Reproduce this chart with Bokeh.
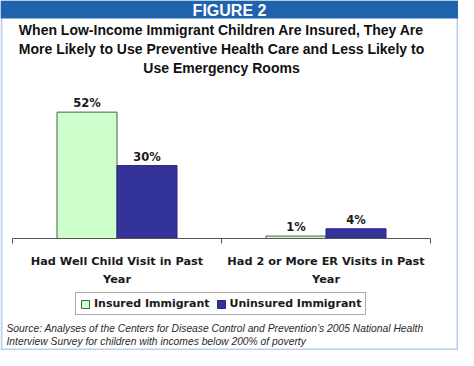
import numpy as np
from bokeh.plotting import figure
from bokeh.models import (Range1d, LinearAxis, FixedTicker, Label, BoxAnnotation,
                          Legend, LegendItem, ColumnDataSource)
from bokeh.transform import dodge
from bokeh.embed import file_html
from bokeh.resources import INLINE
from bokeh.core.properties import value

# ---------------- data ----------------
categories = ["Had Well Child Visit in Past\nYear",
              "Had 2 or More ER Visits in Past\nYear"]
series_names = ["Insured Immigrant", "Uninsured Immigrant"]
insured = [52, 1]
uninsured = [30, 4]
header_text = "FIGURE 2"
title_lines = ["When Low-Income Immigrant Children Are Insured, They Are",
               "More Likely to Use Preventive Health Care and Less Likely to",
               "Use Emergency Rooms"]
source_lines = ["Source: Analyses of the Centers for Disease Control and Prevention\u2019s 2005 National Health",
                "Interview Survey for children with incomes below 200% of poverty"]

# ---------------- layout ----------------
W, H = 458, 350
PX_PER_UNIT = 2.43      # pixels per percentage point
BASE = 238              # baseline, px from top
CAT_PX = 209            # category width in px
LEFT = 12               # chart left, px
BAR_W = 60 / CAT_PX
BLUE = "#1f63ad"
LBL_FONT = "DejaVu Sans"
TITLE_FONT = "Liberation Sans"

p = figure(width=W, height=H, output_backend="svg", toolbar_location=None,
           x_range=Range1d(-LEFT / CAT_PX, (W - LEFT) / CAT_PX),
           y_range=Range1d(-(H - BASE) / PX_PER_UNIT, BASE / PX_PER_UNIT),
           x_axis_type=None, y_axis_type=None, min_border=0,
           outline_line_color=None, background_fill_color="white",
           border_fill_color="white")

idx = np.arange(len(categories)) + 0.5
src = ColumnDataSource(dict(
    x=idx, insured=insured, uninsured=uninsured,
    ins_lbl=[f"{v}%" for v in insured],
    unins_lbl=[f"{v}%" for v in uninsured]))

r0 = p.vbar(x=dodge("x", -BAR_W / 2), top="insured", bottom=0, width=BAR_W,
            source=src, fill_color="#ccffcc", line_color="#46604a", line_width=1)
r1 = p.vbar(x=dodge("x", BAR_W / 2), top="uninsured", bottom=0, width=BAR_W,
            source=src, fill_color="#333399", line_color="#262680", line_width=1)

for col, off in (("ins_lbl", -BAR_W / 2), ("unins_lbl", BAR_W / 2)):
    p.text(x=dodge("x", off), y=("insured" if col == "ins_lbl" else "uninsured"),
           text=col, source=src, text_align="center", text_baseline="alphabetic",
           y_offset=-9, text_font=value(LBL_FONT), text_font_style="bold",
           text_font_size="11.5px", text_color="#1a1a1a")

# axis line with ticks at category boundaries
ax_line = LinearAxis(fixed_location=0,
                     ticker=FixedTicker(ticks=list(range(len(categories) + 1))),
                     bounds=(0, len(categories)),
                     major_tick_in=0, major_tick_out=5,
                     minor_tick_line_color=None,
                     axis_line_color="#555555", major_tick_line_color="#555555",
                     major_label_text_color=None)
# category labels centred in each category
ax_lab = LinearAxis(fixed_location=0, ticker=FixedTicker(ticks=list(idx)),
                    major_label_overrides={float(x): c for x, c in zip(idx, categories)},
                    axis_line_color=None, major_tick_line_color=None,
                    minor_tick_line_color=None, major_tick_in=0, major_tick_out=0,
                    major_label_standoff=16,
                    major_label_text_font=LBL_FONT,
                    major_label_text_font_style="bold",
                    major_label_text_font_size="11.3px",
                    major_label_text_line_height=1.4,
                    major_label_text_color="#1a1a1a")
p.add_layout(ax_line, "below")
p.add_layout(ax_lab, "below")

legend = Legend(items=[LegendItem(label=series_names[0], renderers=[r0]),
                       LegendItem(label=series_names[1], renderers=[r1])],
                location=(75, 35), orientation="horizontal",
                glyph_width=10, glyph_height=10, label_standoff=4, spacing=6,
                padding=4, margin=0, border_line_color="#555555",
                border_line_width=1.3, label_text_font=LBL_FONT,
                label_text_font_style="bold", label_text_font_size="11px",
                label_height=13, label_text_color="#1a1a1a",
                background_fill_color="white")
p.add_layout(legend)

# header band and frame border
p.add_layout(BoxAnnotation(left=0, right=W, top=H, bottom=H - 18,
                           left_units="screen", right_units="screen",
                           top_units="screen", bottom_units="screen",
                           fill_color=BLUE, fill_alpha=1, line_color=None))
p.add_layout(BoxAnnotation(left=1, right=W - 1, top=H - 1, bottom=1,
                           left_units="screen", right_units="screen",
                           top_units="screen", bottom_units="screen",
                           fill_color=None, line_color=BLUE, line_width=2))

p.add_layout(Label(x=W / 2, y=H - 9.5, x_units="screen", y_units="screen",
                   text=header_text, text_align="center", text_baseline="middle",
                   text_font=TITLE_FONT, text_font_style="bold",
                   text_font_size="16px", text_color="white"))
for i, line in enumerate(title_lines):
    p.add_layout(Label(x=len(categories) / 2, y=H - (29 + 19 * i), y_units="screen",
                       text=line, text_align="center", text_baseline="middle",
                       text_font=TITLE_FONT, text_font_style="bold",
                       text_font_size="14px", text_color="#111111"))
for i, line in enumerate(source_lines):
    p.add_layout(Label(x=6, y=H - (328 + 13 * i), x_units="screen", y_units="screen",
                       text=line, text_align="left", text_baseline="middle",
                       text_font=TITLE_FONT, text_font_style="italic",
                       text_font_size="10.3px", text_color="#2a2a2a"))

open("out.html", "w").write(file_html(p, INLINE))
